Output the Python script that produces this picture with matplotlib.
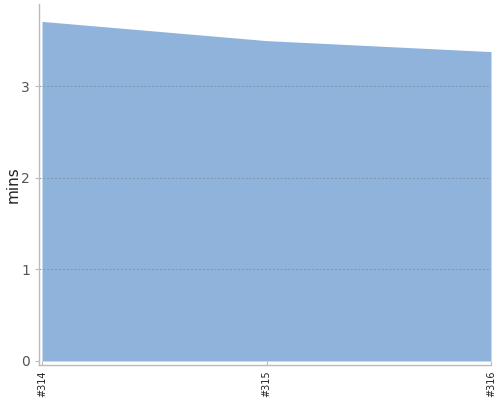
import numpy as np
import matplotlib
matplotlib.use("Agg")
import matplotlib.pyplot as plt

# build numbers and their durations (minutes)
builds = ["#314", "#315", "#316"]
mins = [3.71, 3.50, 3.38]
yticks = [0, 1, 2, 3]

fill_col = "#8fb3db"
spine_col = "#bbbbbb"

fig = plt.figure(figsize=(5, 4), dpi=100)
ax = fig.add_axes([0.077, 0.0875, 0.905, 0.9025])

x = np.arange(len(builds))
ax.fill_between(x, mins, 0, color=fill_col, linewidth=0, zorder=1)

ax.set_xlim(-0.0156, len(builds) - 1)
ax.set_ylim(-0.044, 3.90)

ax.set_yticks(yticks)
ax.set_yticklabels([str(v) for v in yticks])
ax.set_xticks(x)
ax.set_xticklabels(builds, rotation=90, fontsize=7, color="#222222")

for v in yticks[1:]:
    ax.axhline(v, color="#7f95b0", linestyle=(0, (2, 2)), linewidth=0.7, zorder=2)

for s in ["top", "right"]:
    ax.spines[s].set_visible(False)
for s in ["left", "bottom"]:
    ax.spines[s].set_color(spine_col)
    ax.spines[s].set_linewidth(1.0)

ax.tick_params(axis="y", length=3, color=spine_col, labelcolor="#555555", labelsize=10, pad=3)
ax.tick_params(axis="x", length=3, color=spine_col, direction="in", pad=4)

ax.set_ylabel("mins", fontsize=11, color="#222222")
ax.yaxis.set_label_coords(-0.039, 0.5)

fig.savefig("out.png", dpi=100)
